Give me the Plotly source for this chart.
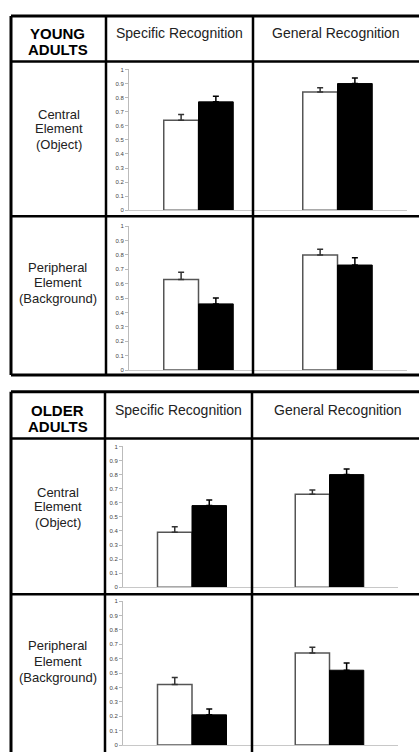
import plotly.graph_objects as go

W, H = 419, 752

# ---- data ----
groups = [["YOUNG", "ADULTS"], ["OLDER", "ADULTS"]]
columns = ["Specific Recognition", "General Recognition"]
rows = [["Central", "Element", "(Object)"], ["Peripheral", "Element", "(Background)"]]

# order: young-central-specific, young-central-general, young-periph-specific, young-periph-general,
#        older-central-specific, older-central-general, older-periph-specific, older-periph-general
white_values = [0.64, 0.84, 0.63, 0.80, 0.39, 0.66, 0.42, 0.64]
white_errors = [0.04, 0.03, 0.05, 0.04, 0.04, 0.03, 0.05, 0.04]
black_values = [0.77, 0.90, 0.46, 0.73, 0.58, 0.80, 0.21, 0.52]
black_errors = [0.04, 0.04, 0.04, 0.05, 0.04, 0.04, 0.04, 0.05]

y_ticks = [0, 0.1, 0.2, 0.3, 0.4, 0.5, 0.6, 0.7, 0.8, 0.9, 1]
y_tick_labels = ["0", "0.1", "0.2", "0.3", "0.4", "0.5", "0.6", "0.7", "0.8", "0.9", "1"]

# ---- layout geometry in pixels ----
def px(x):
    return x / W

def py(y):
    return 1 - y / H

# (y of value 0, y of value 1) for each row of panels
row_y = [(209, 67), (370, 225), (589, 447), (748, 603)]
# x domains for (specific, general) per group
grp_x = [((129, 268), (268, 407)), ((123, 261), (261, 398))]

fig = go.Figure()
FONT = "Arial, Liberation Sans, sans-serif"

idx = 0
for r in range(4):
    g = r // 2
    y0, y1 = row_y[r]
    for c in range(2):
        n = idx + 1
        xa = "x" if n == 1 else f"x{n}"
        ya = "y" if n == 1 else f"y{n}"
        fig.add_trace(go.Bar(
            x=["c"], y=[white_values[idx]], xaxis=xa, yaxis=ya,
            marker=dict(color="white", line=dict(color="#555555", width=1.5)),
            error_y=dict(type="data", symmetric=False, array=[white_errors[idx]], arrayminus=[0],
                         color="#333333", thickness=1.5, width=3),
            showlegend=False, offsetgroup="w"))
        fig.add_trace(go.Bar(
            x=["c"], y=[black_values[idx]], xaxis=xa, yaxis=ya,
            marker=dict(color="black", line=dict(color="black", width=1)),
            error_y=dict(type="data", symmetric=False, array=[black_errors[idx]], arrayminus=[0],
                         color="black", thickness=1.5, width=3),
            showlegend=False, offsetgroup="b"))
        xd = grp_x[g][c]
        xkey = "xaxis" if n == 1 else f"xaxis{n}"
        ykey = "yaxis" if n == 1 else f"yaxis{n}"
        fig.layout[xkey] = dict(domain=[px(xd[0]), px(xd[1])], anchor=ya, type="category",
                                showline=True, linecolor="#c8c8c8", linewidth=1,
                                showticklabels=False, ticks="", showgrid=False, zeroline=False,
                                fixedrange=True)
        specific = (c == 0)
        fig.layout[ykey] = dict(domain=[py(y0), py(y1)], anchor=xa, range=[0, 1],
                                showline=specific, linecolor="#bbbbbb", linewidth=1,
                                ticks="outside" if specific else "", ticklen=3, tickcolor="#bbbbbb",
                                tickvals=y_ticks, ticktext=y_tick_labels,
                                showticklabels=specific,
                                tickfont=dict(size=6, color="#444444", family=FONT),
                                showgrid=False, zeroline=False, fixedrange=True)
        idx += 1

# ---- table lines ----
shapes = []
def line(x0, y0, x1, y1, w=3):
    shapes.append(dict(type="line", xref="paper", yref="paper",
                       x0=px(x0), y0=py(y0), x1=px(x1), y1=py(y1),
                       line=dict(color="black", width=w), layer="above"))

tables = [
    dict(top=13, head=59, mid=215, bottom=375, left=11, c1=106, c2=253),
    dict(top=392, head=439, mid=596, bottom=770, left=11, c1=105, c2=252),
]
for t in tables:
    line(t["left"], t["top"], 430, t["top"])
    line(t["left"], t["bottom"], 430, t["bottom"])
    line(t["left"], t["top"], t["left"], t["bottom"])
    line(t["left"], t["head"], 430, t["head"], 2.5)
    line(t["left"], t["mid"], 430, t["mid"], 2.5)
    line(t["c1"], t["top"], t["c1"], t["bottom"], 2.5)
    line(t["c2"], t["top"], t["c2"], t["bottom"], 2.5)

# ---- texts ----
ann = []
def text(s, x, y, size, bold=False, color="#222222"):
    ann.append(dict(text=f"<b>{s}</b>" if bold else s, x=px(x), y=py(y), xref="paper", yref="paper",
                    xanchor="center", yanchor="middle", showarrow=False,
                    font=dict(family=FONT, size=size, color=color)))

for g, ys in zip(groups, [(31, 47), (411, 427)]):
    for s, y in zip(g, ys):
        text(s, 58, y, 15, bold=True, color="black")
text(columns[0], 179, 30, 14)
text(columns[1], 336, 30, 14)
text(columns[0], 178, 410, 14)
text(columns[1], 338, 410, 14)
row_label_pos = [(59, (112, 127, 143)), (58, (267, 282, 298)), (58, (493, 508, 524)), (58, (648, 664, 680))]
for r, (x, ys) in enumerate(row_label_pos):
    for s, y in zip(rows[r % 2], ys):
        text(s, x, y, 13)

fig.update_layout(width=W, height=H, margin=dict(l=0, r=0, t=0, b=0),
                  paper_bgcolor="white", plot_bgcolor="rgba(0,0,0,0)",
                  barmode="group", bargap=0.5, bargroupgap=0,
                  shapes=shapes, annotations=ann, showlegend=False)

fig.write_html("out.html", config={"displayModeBar": False},
               post_script="document.body.style.margin='0';document.body.style.overflow='hidden';")
